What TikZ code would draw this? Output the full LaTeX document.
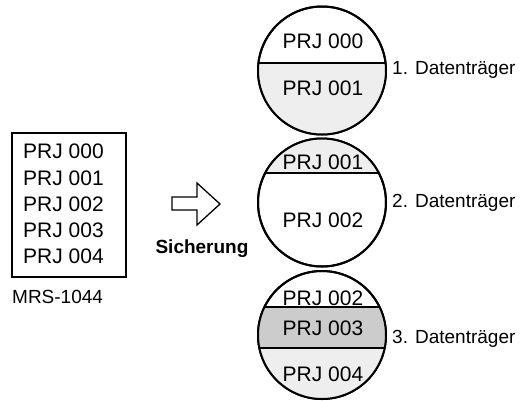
\documentclass[tikz,border=0pt]{standalone}
\usepackage{fontspec}
\setmainfont{Liberation Sans}
\definecolor{lightband}{HTML}{EEEEEE}
\definecolor{midband}{HTML}{CCCCCC}
\begin{document}
\begin{tikzpicture}[x=1pt,y=-1pt,
  prj/.style={inner sep=0pt, font=\fontsize{21}{25}\selectfont},
  lbl/.style={inner sep=0pt, font=\fontsize{19}{23}\selectfont},
  disk/.style={circle, minimum size=128pt, inner sep=0pt, draw=black, line width=2pt},
  sep/.style={line width=2pt}]
\useasboundingbox (0,0) rectangle (520,400);

% circle 1
\node[disk] (c1) at (322,70.5) {};
\begin{scope}
  \clip (c1.center) circle (64pt);
  \fill[lightband] (250,63) rectangle (400,140);
  \draw[sep] (250,63) -- (400,63);
\end{scope}
\node[disk] at (c1.center) {};
\node[prj, anchor=base] (c1a) at (323,48) {PRJ 000};
\node[prj, anchor=base] (c1b) at (323,95) {PRJ 001};
\node[lbl, anchor=base west] (l1) at (392,74) {1. Datenträger};

% circle 2
\node[disk] (c2) at (322,202.5) {};
\begin{scope}
  \clip (c2.center) circle (64pt);
  \fill[lightband] (250,130) rectangle (400,173);
  \draw[sep] (250,173) -- (400,173);
\end{scope}
\node[disk] at (c2.center) {};
\node[prj, anchor=base] (c2a) at (323,169) {PRJ 001};
\node[prj, anchor=base] (c2b) at (323,227) {PRJ 002};
\node[lbl, anchor=base west] (l2) at (392,207) {2. Datenträger};

% circle 3
\node[disk] (c3) at (322,335) {};
\begin{scope}
  \clip (c3.center) circle (64pt);
  \fill[midband] (250,307) rectangle (400,348);
  \fill[lightband] (250,348) rectangle (400,400);
  \draw[sep] (250,307) -- (400,307);
  \draw[sep] (250,348) -- (400,348);
\end{scope}
\node[disk] at (c3.center) {};
\node[prj, anchor=base] (c3a) at (323,305) {PRJ 002};
\node[prj, anchor=base] (c3b) at (323,335) {PRJ 003};
\node[prj, anchor=base] (c3c) at (323,381) {PRJ 004};
\node[lbl, anchor=base west] (l3) at (392,343) {3. Datenträger};

% source box
\node[draw=black, line width=1.1pt, minimum width=114pt, minimum height=144pt, inner sep=0pt] (box) at (69,205) {};
\node[prj, anchor=base west] (p0) at (23,158) {PRJ 000};
\node[prj, anchor=base west] (p1) at (23,185) {PRJ 001};
\node[prj, anchor=base west] (p2) at (23,211) {PRJ 002};
\node[prj, anchor=base west] (p3) at (23,237) {PRJ 003};
\node[prj, anchor=base west] (p4) at (23,263) {PRJ 004};
\node[lbl, anchor=base west] (mrs) at (12,303) {MRS-1044};

% arrow
\draw[line width=1.3pt, line join=miter] (172,197) -- (197,197) -- (197,183) -- (220,204) -- (197,225) -- (197,210) -- (172,210) -- cycle;
\node[lbl, anchor=base, font=\fontsize{19}{23}\selectfont\bfseries] (sich) at (202,253) {Sicherung};
\end{tikzpicture}
\end{document}
